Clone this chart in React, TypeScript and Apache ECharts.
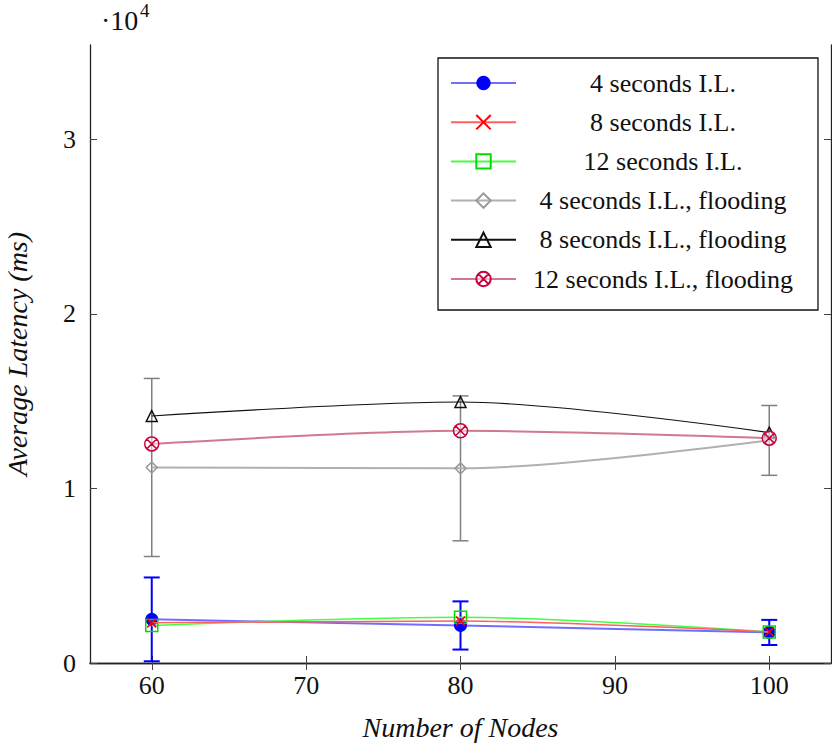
import React, { useEffect, useRef } from "react";
import * as echarts from "echarts";

const nodes = [60, 80, 100];
const il4 = [2500, 2150, 1750];
const il4Err = [2400, 1380, 720];
const il8 = [2300, 2400, 1780];
const il12 = [2150, 2620, 1780];
const il4f = [11200, 11150, 12750];
const il4fErr = [5100, 4150, 2000];
const il8f = [14150, 14950, 13200];
const il12f = [12550, 13300, 12880];

const xTicks = [60, 70, 80, 90, 100];
const yTicks = [0, 10000, 20000, 30000];

const seriesNames = [
  "4 seconds I.L.",
  "8 seconds I.L.",
  "12 seconds I.L.",
  "4 seconds I.L., flooding",
  "8 seconds I.L., flooding",
  "12 seconds I.L., flooding",
];

const serif = "'Liberation Serif', 'DejaVu Serif', serif";

const crossPath = "path://M0,0L10,10M10,0L0,10";
const circleXPath =
  "path://M0,10A10,10,0,1,1,20,10A10,10,0,1,1,0,10Z M2.93,2.93L17.07,17.07 M17.07,2.93L2.93,17.07";

function pairs(vals: number[]) {
  return nodes.map((n, i) => [n, vals[i]]);
}

function errData(vals: number[], errs: number[]) {
  return nodes.map((n, i) => [n, vals[i], errs[i]]);
}

function errSeries(vals: number[], errs: number[], color: string, width: number) {
  return {
    type: "custom",
    z: 1,
    silent: true,
    data: errData(vals, errs),
    renderItem: (params: any, api: any) => {
      const x = api.value(0);
      const y = api.value(1);
      const e = api.value(2);
      const top = api.coord([x, y + e]);
      const bot = api.coord([x, y - e]);
      const hw = 8;
      const style = { stroke: color, lineWidth: width };
      return {
        type: "group",
        children: [
          { type: "line", shape: { x1: top[0], y1: top[1], x2: bot[0], y2: bot[1] }, style },
          { type: "line", shape: { x1: top[0] - hw, y1: top[1], x2: top[0] + hw, y2: top[1] }, style },
          { type: "line", shape: { x1: bot[0] - hw, y1: bot[1], x2: bot[0] + hw, y2: bot[1] }, style },
        ],
      };
    },
  };
}

function lineSeries(
  name: string,
  vals: number[],
  lineColor: string,
  lineWidth: number,
  symbol: string,
  symbolSize: number,
  fill: string,
  border: string,
  borderWidth: number,
  z: number
) {
  return {
    name,
    type: "line",
    data: pairs(vals),
    smooth: 0.3,
    z,
    symbol,
    symbolSize,
    showAllSymbol: true,
    lineStyle: { color: lineColor, width: lineWidth },
    itemStyle: { color: fill, borderColor: border, borderWidth },
    emphasis: { disabled: true },
  };
}

export default function App() {
  const ref = useRef<HTMLDivElement>(null);

  useEffect(() => {
    if (!ref.current) return;
    const chart = echarts.init(ref.current, undefined, { renderer: "svg" });
    const axisLine = { show: true, lineStyle: { color: "#222", width: 1.3 } };
    const tickStyle = { color: "#444", width: 1 };
    const option: any = {
      animation: false,
      backgroundColor: "#fff",
      grid: { left: 90, right: 1, top: 45, bottom: 87, outerBoundsMode: "none", containLabel: false },
      xAxis: [
        {
          type: "value",
          min: 56,
          max: 104,
          position: "bottom",
          name: "Number of Nodes",
          nameLocation: "middle",
          nameGap: 50,
          nameTextStyle: { fontFamily: serif, fontStyle: "italic", fontSize: 28, color: "#111" },
          axisLine,
          axisTick: { show: true, inside: true, length: 7, lineStyle: tickStyle, customValues: xTicks },
          axisLabel: {
            customValues: xTicks,
            margin: 9,
            fontFamily: serif,
            fontSize: 26,
            color: "#111",
          },
          splitLine: { show: false },
        },
        {
          type: "value",
          min: 56,
          max: 104,
          position: "top",
          axisLine,
          axisTick: { show: true, inside: true, length: 7, lineStyle: tickStyle, customValues: xTicks },
          axisLabel: { show: false },
          splitLine: { show: false },
        },
      ],
      yAxis: [
        {
          type: "value",
          min: 0,
          max: 35400,
          position: "left",
          name: "Average Latency (ms)",
          nameLocation: "middle",
          nameGap: 59,
          nameTextStyle: { fontFamily: serif, fontStyle: "italic", fontSize: 28, color: "#111" },
          axisLine,
          axisTick: { show: true, inside: true, length: 7, lineStyle: tickStyle, customValues: yTicks },
          axisLabel: {
            customValues: yTicks,
            margin: 14,
            fontFamily: serif,
            fontSize: 26,
            color: "#111",
            formatter: (v: number) => String(v / 10000),
          },
          splitLine: { show: false },
        },
        {
          type: "value",
          min: 0,
          max: 35400,
          position: "right",
          axisLine,
          axisTick: { show: true, inside: true, length: 7, lineStyle: tickStyle, customValues: yTicks },
          axisLabel: { show: false },
          splitLine: { show: false },
        },
      ],
      legend: {
        data: seriesNames,
        orient: "vertical",
        left: 438,
        top: 58,
        z: 10,
        padding: [12, 14, 17, 12],
        itemGap: 13.2,
        itemWidth: 65,
        itemHeight: 18,
        backgroundColor: "transparent",
        borderWidth: 0,
        selectedMode: false,
        formatter: "{a|{name}}",
        textStyle: {
          rich: {
            a: {
              width: 284,
              align: "center",
              fontFamily: serif,
              fontSize: 26,
              color: "#111",
              height: 25,
            },
          },
        },
      },
      graphic: [
        {
          type: "rect",
          z: 9,
          shape: { x: 438, y: 58, width: 380, height: 252 },
          style: { fill: "#fff", stroke: "#111", lineWidth: 1.3 },
        },
        {
          type: "text",
          left: 101,
          top: 6,
          style: { text: "·10", fontFamily: serif, fontSize: 28, fill: "#111" },
        },
        {
          type: "text",
          left: 140,
          top: 1,
          style: { text: "4", fontFamily: serif, fontSize: 19, fill: "#111" },
        },
      ],
      series: [
        errSeries(il4f, il4fErr, "#808080", 1.5),
        errSeries(il4, il4Err, "#0000ff", 2),
        lineSeries(seriesNames[3], il4f, "#b0b0b0", 2, "diamond", 11, "rgba(255,255,255,0)", "#999", 1.5, 3),
        lineSeries(seriesNames[4], il8f, "#111", 1.2, "triangle", 11, "rgba(255,255,255,0)", "#111", 1.5, 4),
        lineSeries(seriesNames[5], il12f, "#d07a8e", 2, circleXPath, 14, "rgba(255,255,255,0.5)", "#c8003c", 1.5, 5),
        lineSeries(seriesNames[0], il4, "#6f6fff", 2, "circle", 13, "#0000ff", "#0000ff", 0, 6),
        lineSeries(seriesNames[2], il12, "#44ff44", 1.5, "rect", 12, "rgba(255,255,255,0)", "#00dd00", 1.5, 7),
        lineSeries(seriesNames[1], il8, "#ff6060", 1.5, crossPath, 9, "rgba(255,255,255,0)", "#ff0000", 1.5, 8),
      ],
    };
    chart.setOption(option);
    return () => chart.dispose();
  }, []);

  return (
    <div
      ref={ref}
      style={{ position: "absolute", left: 0, top: 0, width: 832, height: 750, background: "#fff" }}
    />
  );
}
